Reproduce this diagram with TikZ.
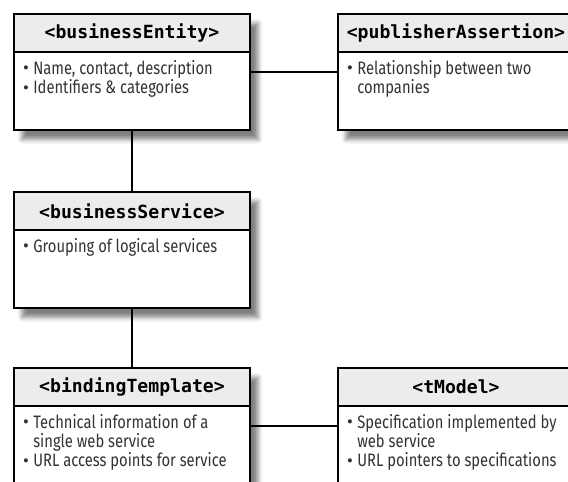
\documentclass[tikz,border=0pt]{standalone}
\usepackage{fontspec}
\setmainfont{Fira Sans}[FakeStretch=0.82]
\newfontfamily\hdrfont{DejaVu Sans Mono}
\usetikzlibrary{positioning,shadows.blur}

\definecolor{hdrgray}{RGB}{236,236,236}
\newcommand\bul{\makebox[7.5pt][l]{\raisebox{0.35ex}{\scalebox{0.55}{$\bullet$}}}}
\newcommand\ind{\hspace*{7.5pt}}

\tikzset{every picture/.style={line width=0.75pt}}
\tikzset{
	umlbox/.style={draw, line width=2pt, fill=white, minimum width=177pt, minimum height=87pt,
		inner sep=0pt, outer sep=0pt,
		blur shadow={shadow xshift=6pt, shadow yshift=-7pt, shadow blur radius=3.5pt, shadow opacity=50}},
	hdrbar/.style={draw, line width=1.6pt, fill=hdrgray, minimum width=177pt, minimum height=28.5pt,
		inner sep=0pt, outer sep=0pt, font=\hdrfont\bfseries\fontsize{13.6}{15}\selectfont},
	bodytext/.style={align=left, inner sep=0pt, outer sep=0pt, text=black!80,
		font=\fontsize{13.5}{14.6}\selectfont},
	link/.style={line width=1.3pt}
}

\begin{document}
\begin{tikzpicture}[x=0.75pt,y=0.75pt,yscale=-1,xscale=1]
	\clip (0,0) rectangle (568,482);

	% Boxes
	\node[umlbox] (entity) at (132,72) {};
	\node[umlbox] (assertion) at (456,72) {};
	\node[umlbox] (service) at (132,250) {};
	\node[umlbox] (binding) at (132,426) {};
	\node[umlbox] (tmodel) at (456,426) {};

	% Header Nodes
	\node[hdrbar, below=0pt of entity.north] (entityhdr) {<businessEntity>};
	\node[hdrbar, below=0pt of assertion.north] (assertionhdr) {<publisherAssertion>};
	\node[hdrbar, below=0pt of service.north] (servicehdr) {<businessService>};
	\node[hdrbar, below=0pt of binding.north] (bindinghdr) {<bindingTemplate>};
	\node[hdrbar, below=0pt of tmodel.north] (tmodelhdr) {<tModel>};

	% Text Nodes
	\node[bodytext, below right=6pt and 7pt of entityhdr.south west] (entitytxt)
		{\bul Name, contact, description\\\bul Identifiers \& categories};
	\node[bodytext, below right=6pt and 7pt of assertionhdr.south west] (assertiontxt)
		{\bul Relationship between two\\\ind companies};
	\node[bodytext, below right=6pt and 7pt of servicehdr.south west] (servicetxt)
		{\bul Grouping of logical services};
	\node[bodytext, below right=6pt and 7pt of bindinghdr.south west] (bindingtxt)
		{\bul Technical information of a\\\ind single web service\\\bul URL access points for service};
	\node[bodytext, below right=6pt and 7pt of tmodelhdr.south west] (tmodeltxt)
		{\bul Specification implemented by\\\ind web service\\\bul URL pointers to specifications};

	% Straight Lines
	\draw[link] (entity.east) -- (assertion.west);
	\draw[link] (entity.south) -- (service.north);
	\draw[link] (service.south) -- (binding.north);
	\draw[link] (binding.east) -- (tmodel.west);

\end{tikzpicture}
\end{document}
